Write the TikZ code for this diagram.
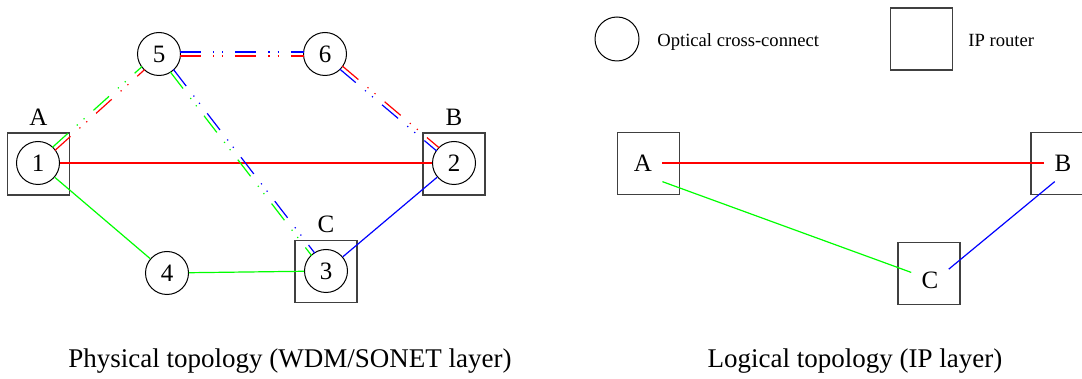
\documentclass[tikz,border=0pt]{standalone}
\usepackage{fontspec}
\setmainfont{Liberation Serif}
\usetikzlibrary{calc}

\begin{document}
\begin{tikzpicture}[x=0.5pt,y=-0.5pt,font=\fontsize{12.5}{15}\selectfont]
        \tikzset{oxc/.style={draw,circle,minimum size=21.5pt,inner sep=0pt,line width=0.5pt},
          router/.style={draw=black!75,minimum size=31pt,inner sep=0pt,line width=0.7pt},
          lab/.style={inner sep=5pt},
          link/.style={line width=0.6pt},
          wdm/.style={line width=0.6pt,shorten <=10.5pt,shorten >=10.5pt,
            dash pattern=on 10.5pt off 6pt on 0.6pt off 4pt on 0.6pt off 6pt},
          legend/.style={font=\fontsize{9.3}{11}\selectfont,anchor=base west,inner sep=0pt},
          caption/.style={font=\fontsize{13.5}{16}\selectfont,anchor=base,inner sep=0pt}}
        \useasboundingbox (0,0) rectangle (1082,379);
        % physical topology
        \node[router,label=above:A] (rA) at (38.5,164) {};
        \node[router,label=above:B] (rB) at (454,164) {};
        \node[router,label=above:C] (rC) at (326,271.5) {};
        \node[oxc] (n1) at (38,163) {1};
        \node[oxc] (n2) at (454,163) {2};
        \node[oxc] (n3) at (326,271) {3};
        \node[oxc] (n4) at (167,273) {4};
        \node[oxc] (n5) at (159,54) {5};
        \node[oxc] (n6) at (325,54) {6};
        \draw[link,red] (n1) -- (n2);
        \draw[link,green] (n1) -- (n4);
        \draw[link,green] (n4) -- (n3);
        \draw[link,blue] (n3) -- (n2);
        \foreach \a/\b/\ca/\cb in {n1/n5/green/red,n5/n6/blue/red,n6/n2/red/blue,n5/n3/blue/green}
          {\draw[wdm,draw=\ca] ($(\a)!1pt!90:(\b)$) -- ($(\b)!1pt!-90:(\a)$);
           \draw[wdm,draw=\cb] ($(\a)!1pt!-90:(\b)$) -- ($(\b)!1pt!90:(\a)$);}
        % legend
        \node[oxc,minimum size=22pt] (kOxc) at (617,39) {};
        \node[legend] (tOxc) at (657,47) {Optical cross-connect};
        \node[router] (kRouter) at (921.5,39) {};
        \node[legend] (tRouter) at (968,47) {IP router};
        % logical topology
        \node[router] (sA) at (648.5,163.5) {};
        \node[router] (sB) at (1062,163.5) {};
        \node[router] (sC) at (929,273.5) {};
        \node[lab] (lA) at (643,163) {A};
        \node[lab] (lB) at (1063,163) {B};
        \node[lab] (lC) at (930,280) {C};
        \draw[link,red] (lA.east) -- (lB.west);
        \draw[link,green] (lA.south east) -- (lC.158);
        \draw[link,blue] (lB.246) -- (lC.30);
        % captions
        \node[caption] (capP) at (290,367) {Physical topology (WDM/SONET layer)};
        \node[caption] (capL) at (855,367) {Logical topology (IP layer)};
      \end{tikzpicture}
\end{document}
